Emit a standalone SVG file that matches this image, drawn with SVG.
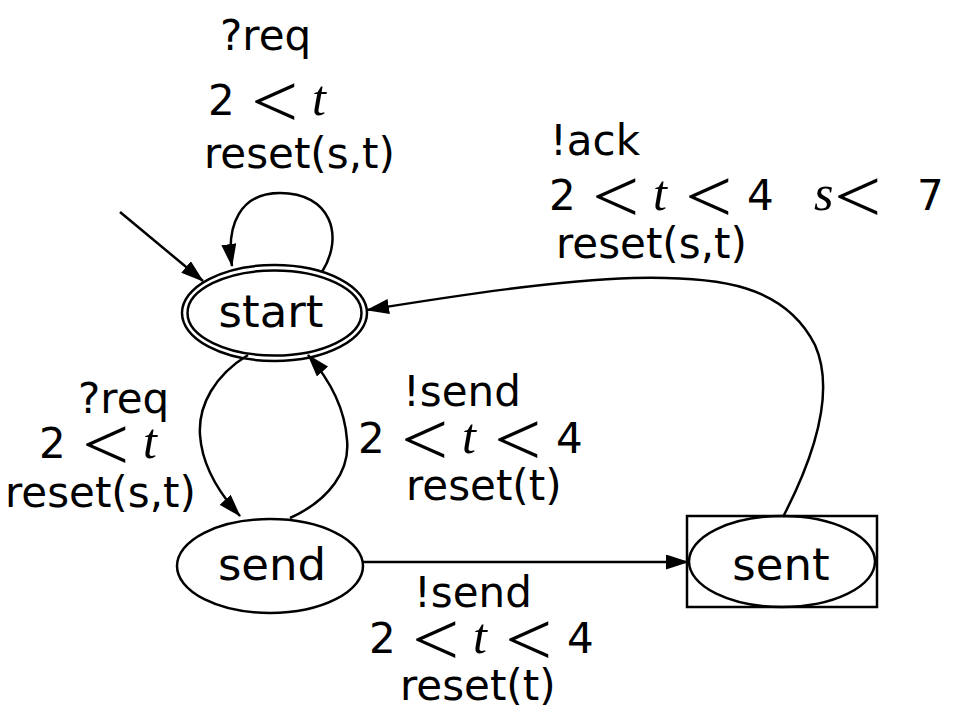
<svg xmlns="http://www.w3.org/2000/svg" width="956" height="721" viewBox="0 0 956 721">
<style>
.node{fill:none;stroke:#000;stroke-width:2.5}
.edge{fill:none;stroke:#000;stroke-width:2.5}
.nl{font-family:"DejaVu Sans",sans-serif;font-size:45px;text-anchor:middle;fill:#000}
.lbl{font-family:"DejaVu Sans",sans-serif;font-size:42px;fill:#000}
.lt{font-family:"Liberation Serif",serif;font-size:84px;fill:#000}
.mi{font-family:"Liberation Serif",serif;font-style:italic;font-size:50px;fill:#000}
</style>
<defs>
<marker id="ah" markerUnits="userSpaceOnUse" markerWidth="23" markerHeight="15" refX="22" refY="7.5" orient="auto">
<path d="M0,0 L23,7.5 L0,15 z" fill="#000"/>
</marker>
</defs>
<rect width="956" height="721" fill="#fff"/>
<g id="edges">
<path class="edge" d="M120,212 L203,281" marker-end="url(#ah)"/>
<path class="edge" d="M322,272 C345,235 330,193 280,193 C240,193 226,225 232,266" marker-end="url(#ah)"/>
<path class="edge" d="M248,355 C215,375 198,405 200,435 C202,465 218,492 240,516" marker-end="url(#ah)"/>
<path class="edge" d="M290,518 C330,500 350,470 347,440 C345,410 330,380 308,355" marker-end="url(#ah)"/>
<path class="edge" d="M362,562 L688,562" marker-end="url(#ah)"/>
<path class="edge" d="M783,517 C815,455 835,390 815,345 C785,285 720,276 633,278 C560,280 460,295 367,310" marker-end="url(#ah)"/>
</g>
<g id="start">
<ellipse class="node" cx="274.5" cy="313" rx="92.5" ry="48"/>
<ellipse class="node" cx="274.5" cy="313" rx="87" ry="42.5"/>
<text class="nl" x="271" y="327">start</text>
</g>
<g id="send">
<ellipse class="node" cx="270" cy="566" rx="93" ry="47"/>
<text class="nl" x="272" y="580">send</text>
</g>
<g id="sent">
<rect class="node" x="687" y="516" width="190" height="91"/>
<ellipse class="node" cx="782" cy="561.5" rx="93" ry="45.5"/>
<text class="nl" x="781" y="580">sent</text>
</g>
<g id="labels">
<text class="lbl" x="220" y="50">?req</text>
<g transform="translate(212,115)"><text class="lbl" x="-4" y="0">2</text><text class="lt" transform="translate(39,12) scale(1,0.9)">&lt;</text><text class="mi" x="100" y="0">t</text></g>
<text class="lbl" x="204" y="168">reset(s,t)</text>

<text class="lbl" x="550" y="155">!ack</text>
<g transform="translate(553,210)"><text class="lbl" x="-4" y="0">2</text><text class="lt" transform="translate(39,12) scale(1,0.9)">&lt;</text><text class="mi" x="100" y="0">t</text><text class="lt" transform="translate(132,12) scale(1,0.9)">&lt;</text><text class="lbl" x="194" y="0">4</text><text class="mi" x="261" y="0">s</text><text class="lt" transform="translate(281,12) scale(1,0.9)">&lt;</text><text class="lbl" x="364" y="0">7</text></g>
<text class="lbl" x="556" y="258">reset(s,t)</text>

<text class="lbl" x="78" y="413">?req</text>
<g transform="translate(43,458)"><text class="lbl" x="-4" y="0">2</text><text class="lt" transform="translate(39,12) scale(1,0.9)">&lt;</text><text class="mi" x="100" y="0">t</text></g>
<text class="lbl" x="5" y="507">reset(s,t)</text>

<text class="lbl" x="403" y="406">!send</text>
<g transform="translate(362,453)"><text class="lbl" x="-4" y="0">2</text><text class="lt" transform="translate(39,12) scale(1,0.9)">&lt;</text><text class="mi" x="100" y="0">t</text><text class="lt" transform="translate(132,12) scale(1,0.9)">&lt;</text><text class="lbl" x="194" y="0">4</text></g>
<text class="lbl" x="406" y="500">reset(t)</text>

<text class="lbl" x="414" y="607">!send</text>
<g transform="translate(373,653)"><text class="lbl" x="-4" y="0">2</text><text class="lt" transform="translate(39,12) scale(1,0.9)">&lt;</text><text class="mi" x="100" y="0">t</text><text class="lt" transform="translate(132,12) scale(1,0.9)">&lt;</text><text class="lbl" x="194" y="0">4</text></g>
<text class="lbl" x="400" y="700">reset(t)</text>
</g>
</svg>
